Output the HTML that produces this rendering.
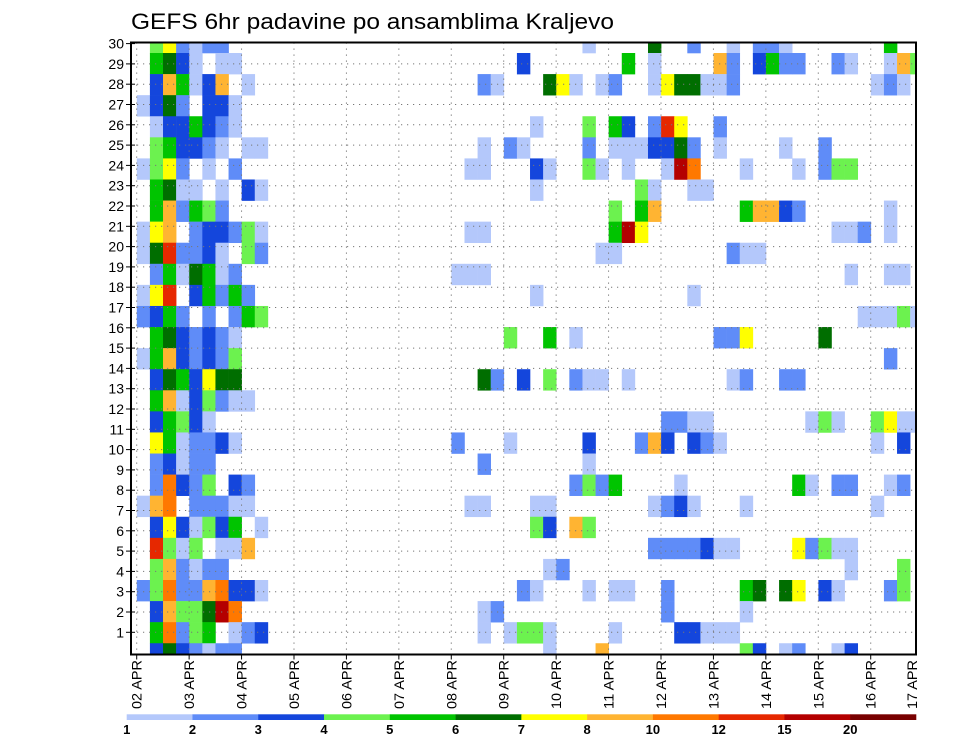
<!DOCTYPE html>
<html><head><meta charset="utf-8">
<style>
html,body{margin:0;padding:0;background:#fff;}
svg{display:block;font-family:"Liberation Sans",sans-serif;}
</style></head>
<body>
<svg id="chart" width="960" height="742" viewBox="0 0 960 742" xmlns="http://www.w3.org/2000/svg">
  <defs><clipPath id="plotclip"><rect x="131" y="42.5" width="785" height="612"/></clipPath></defs>
  <text x="131" y="29" font-size="22" textLength="483" lengthAdjust="spacingAndGlyphs" fill="#000">GEFS 6hr padavine po ansamblima Kraljevo</text>
  <g id="cells" clip-path="url(#plotclip)"></g>
  <g id="grid"></g>
  <rect x="131" y="42.5" width="785" height="612" fill="none" stroke="#000" stroke-width="2"/>
  <g id="yaxis"></g>
  <g id="xaxis"></g>
  <g id="legend"></g>
</svg>
<script>
// ---- data ----
const levels = [1, 2, 3, 4, 5, 6, 7, 8, 10, 12, 15, 20];
const levelColors = ["#b4c8fb","#5f8cf8","#1446dc","#6cf24f","#00c400","#006e00","#ffff00","#ffb432","#ff7800","#e62800","#b40000","#780000"];
const dayLabels = ["02 APR","03 APR","04 APR","05 APR","06 APR","07 APR","08 APR","09 APR","10 APR","11 APR","12 APR","13 APR","14 APR","15 APR","16 APR","17 APR"];
const memberLabels = [1,2,3,4,5,6,7,8,9,10,11,12,13,14,15,16,17,18,19,20,21,22,23,24,25,26,27,28,29,30];
// each row (top to bottom): "timeStepIndex:precipValue" tokens
const memberRows = [
"1:4 2:7 3:2 4:1 5:2 6:2 34:1 39:6 42:2 45:1 47:2 48:2 49:1 57:5",
"1:5 2:6 3:3 4:1 6:1 7:1 29:3 37:5 39:1 44:8 45:2 47:3 48:5 49:2 50:2 53:2 54:1 57:1 58:8 59:4",
"1:3 2:8 3:5 4:1 5:3 6:8 8:1 26:2 27:1 31:6 32:7 33:1 35:1 36:2 39:1 40:7 41:6 42:6 43:1 44:1 45:2 56:1 57:2 58:1",
"0:1 1:3 2:6 3:2 5:3 6:3 7:1",
"1:1 2:3 3:3 4:5 5:3 6:2 7:1 30:1 34:4 36:5 37:3 39:2 40:12 41:7 44:2",
"1:4 2:5 3:3 4:3 5:2 6:1 8:1 9:1 26:1 28:2 29:1 34:2 36:1 37:1 38:1 39:3 40:3 41:6 42:2 44:1 49:1 52:2",
"0:1 1:4 2:7 3:2 5:1 7:2 25:1 26:1 30:3 31:1 34:4 35:1 37:1 40:1 41:15 42:10 46:1 50:1 52:2 53:4 54:4",
"1:5 2:6 3:1 4:1 6:1 8:3 9:1 30:1 38:4 39:1 42:1 43:1",
"1:5 2:8 3:2 4:5 5:4 6:2 36:4 38:5 39:8 46:5 47:8 48:8 49:3 50:2 57:1",
"0:1 1:7 2:8 4:2 5:3 6:3 7:2 8:4 9:1 25:1 26:1 36:5 37:15 38:7 53:1 54:1 55:2 57:1",
"0:1 1:6 2:12 3:2 4:2 5:3 6:1 8:4 9:2 35:1 36:1 45:2 46:1 47:1",
"1:2 2:5 3:1 4:6 5:5 6:1 7:2 24:1 25:1 26:1 54:1 57:1 58:1",
"0:1 1:7 2:12 4:3 5:5 6:2 7:5 8:2 30:1 42:1",
"0:2 1:3 2:5 3:2 5:2 7:2 8:5 9:4 55:1 56:1 57:1 58:4 59:1",
"1:5 2:6 3:3 4:2 5:3 6:2 7:1 28:4 31:5 33:1 44:2 45:2 46:7 52:6",
"0:1 1:5 2:8 3:3 4:2 5:3 6:2 7:4 57:2",
"1:3 2:6 3:5 4:3 5:7 6:6 7:6 26:6 27:2 29:3 31:4 33:2 34:1 35:1 37:1 45:1 46:2 49:2 50:2",
"1:5 2:8 3:1 4:3 5:4 6:2 7:1 8:1",
"1:3 2:5 3:4 4:3 5:1 40:2 41:2 42:1 43:1 51:1 52:4 53:1 56:4 57:7 58:1 59:1",
"1:7 2:5 3:1 4:2 5:2 6:3 7:1 24:2 28:1 34:3 38:2 39:8 40:3 42:3 43:2 44:1 56:1 58:3",
"1:2 2:3 3:1 4:2 5:2 26:2 34:1",
"1:2 2:10 3:3 4:2 5:4 7:3 8:2 33:2 34:4 35:2 36:5 41:1 50:5 51:1 53:2 54:2 57:1 58:2",
"0:1 1:8 2:10 4:2 5:2 6:2 7:1 8:1 25:1 26:1 30:1 31:1 39:1 40:2 41:3 42:1 46:1 56:1",
"1:3 2:7 3:3 4:1 5:4 6:3 7:5 9:1 30:4 31:3 33:8 34:4",
"1:12 2:4 3:1 4:4 6:1 7:1 8:8 39:2 40:2 41:2 42:2 43:3 44:1 45:1 50:7 51:2 52:4 53:1 54:1",
"1:4 2:8 3:2 4:1 5:2 6:2 31:1 32:2 54:1 58:4",
"0:2 1:4 2:10 3:2 4:2 5:8 6:10 7:3 8:3 9:1 29:2 30:1 34:1 36:1 37:1 40:2 46:5 47:6 49:6 50:7 52:3 53:1 57:2 58:4",
"1:3 2:8 3:4 4:4 5:6 6:15 7:10 26:1 27:2 40:2 46:1",
"1:5 2:10 3:2 4:4 5:5 7:1 8:2 9:3 26:1 28:1 29:4 30:4 31:1 36:1 41:3 42:3 43:1 44:1 45:1",
"1:3 2:6 3:3 4:2 5:1 6:2 7:2 31:1 35:8 46:4 47:3 49:1 50:2 53:1 54:3"
];

// ---- scales ----
const NS = "http://www.w3.org/2000/svg";
const PL = 131, PR = 916, PT = 42.5, PB = 654.5;
const dayW = 52.43, x0 = 136.8, cellW = dayW / 4;
function xStep(k){ return x0 + cellW * k; }
function xDay(d){ return 136.7 + dayW * d; }
const rowH = 21.08;
function yRowTop(r){ return 53 + rowH * (r - 1); }
function yLabel(n){ return 652.6 - 20.3 * n; }
function colorFor(v){
  let idx = 0;
  for (let i = 0; i < levels.length; i++) if (v >= levels[i]) idx = i;
  return levelColors[idx];
}
function mk(tag, attrs, parent){
  const el = document.createElementNS(NS, tag);
  for (const k in attrs) el.setAttribute(k, attrs[k]);
  parent.appendChild(el);
  return el;
}

// ---- cells ----
const gCells = document.getElementById("cells");
memberRows.forEach((row, r) => {
  row.trim().split(/\s+/).forEach(tok => {
    if (!tok) return;
    const [k, v] = tok.split(":").map(Number);
    const el = mk("rect", {x: xStep(k), y: yRowTop(r), width: cellW + 0.3, height: rowH + 0.3, fill: colorFor(v)}, gCells);
    
    
  });
});

// ---- grid ----
const gGrid = document.getElementById("grid");
for (let n = 1; n < 30; n++) {
  const el = mk("line", {x1: PL, x2: PR, y1: yLabel(n), y2: yLabel(n), stroke: "#777", "stroke-width": 1, "stroke-dasharray": "1.2 4.8"}, gGrid);
  
  
}
for (let d = 0; d < dayLabels.length; d++) {
  const x = xDay(d);
  if (x > PR) continue;
  const el = mk("line", {x1: x, x2: x, y1: PT, y2: PB, stroke: "#777", "stroke-width": 1, "stroke-dasharray": "1.2 4.8"}, gGrid);
  
  
}

// ---- y axis ----
const gY = document.getElementById("yaxis");
memberLabels.forEach(n => {
  const y = yLabel(n);
  const t = mk("line", {x1: PL - 5, x2: PL + 4, y1: y, y2: y, stroke: "#000", "stroke-width": 1}, gY);
  
  
  const tx = mk("text", {x: PL - 7, y: y + 5, "font-size": 14, "text-anchor": "end", fill: "#000"}, gY);
  tx.textContent = String(n);
  
  
});

// ---- x axis ----
const gX = document.getElementById("xaxis");
dayLabels.forEach((lab, d) => {
  const x = Math.min(xDay(d), 912);
  if (xDay(d) <= PR) {
    const t = mk("line", {x1: xDay(d), x2: xDay(d), y1: PB, y2: PB + 5, stroke: "#000", "stroke-width": 1}, gX);
    
    
  }
  const tx = mk("text", {x: 0, y: 0, "font-size": 14, fill: "#000", textLength: 49, lengthAdjust: "spacingAndGlyphs", transform: "translate(" + (x + 5) + ",709) rotate(-90)"}, gX);
  tx.textContent = lab;
  
  
});

// ---- legend ----
const gL = document.getElementById("legend");
const lx0 = 126.7, lw = (916 - 126.7) / levels.length;
levels.forEach((v, i) => {
  const r = mk("rect", {x: lx0 + lw * i, y: 714.3, width: lw + 0.3, height: 5.7, fill: levelColors[i]}, gL);
  
  
  const t = mk("text", {x: lx0 + lw * i, y: 734, "font-size": 13, "font-weight": "bold", "text-anchor": "middle", fill: "#000"}, gL);
  t.textContent = String(v);
  
  
});
</script>
</body></html>
